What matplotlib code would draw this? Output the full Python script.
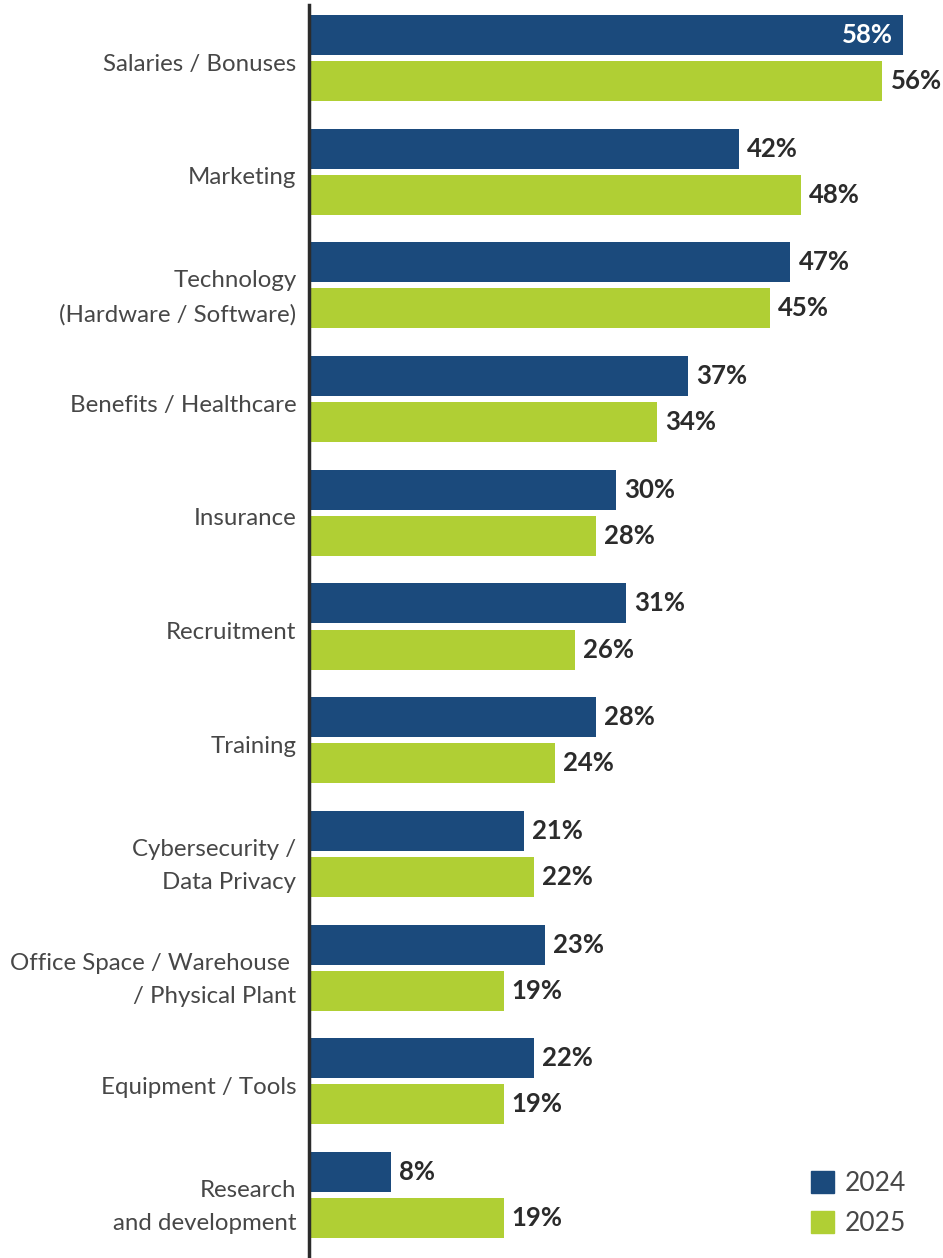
import matplotlib.pyplot as plt
from matplotlib.patches import Patch
from matplotlib.transforms import ScaledTranslation
from matplotlib import font_manager

categories = [
    "Salaries / Bonuses",
    "Marketing",
    "Technology\n(Hardware / Software)",
    "Benefits / Healthcare",
    "Insurance",
    "Recruitment",
    "Training",
    "Cybersecurity /\nData Privacy",
    "Office Space / Warehouse \n/ Physical Plant",
    "Equipment / Tools",
    "Research\nand development",
]
values_2024 = [58, 42, 47, 37, 30, 31, 28, 21, 23, 22, 8]
values_2025 = [56, 48, 45, 34, 28, 26, 24, 22, 19, 19, 19]
series_labels = ["2024", "2025"]

BLUE = "#1b4a7c"
GREEN = "#b0cf34"
TEXT = "#474747"
DARK = "#2b2b2b"

names = {f.name for f in font_manager.fontManager.ttflist}
family = "Lato" if "Lato" in names else "DejaVu Sans"
plt.rcParams["font.family"] = [family, "DejaVu Sans"]

W, H = 943, 1258
fig = plt.figure(figsize=(W / 100, H / 100), dpi=100)
left_px, top_px = 309, 5
ax = fig.add_axes([left_px / W, 0, 1 - left_px / W, 1 - top_px / H])

px_per_unit = 113.7
first_center = 58
ax.set_ylim((H - first_center) / px_per_unit, -(first_center - top_px) / px_per_unit)
ax.set_xlim(0, (W - left_px) / 10.24)

idx = list(range(len(categories)))
off = 0.2025
h = 0.352
ax.barh([i - off for i in idx], values_2024, height=h, color=BLUE)
ax.barh([i + off for i in idx], values_2025, height=h, color=GREEN)

vfs = 18.5
for i, v in enumerate(values_2024):
    if v >= 55:
        ax.text(v - 1.0, i - off, f"{v}%", ha="right", va="center",
                color="white", fontsize=vfs, fontweight="bold")
    else:
        ax.text(v + 0.8, i - off, f"{v}%", ha="left", va="center",
                color=DARK, fontsize=vfs, fontweight="bold")
for i, v in enumerate(values_2025):
    ax.text(v + 0.8, i + off, f"{v}%", ha="left", va="center",
            color=DARK, fontsize=vfs, fontweight="bold")

ax.set_yticks(idx)
ax.set_yticklabels(categories, fontsize=17.3, color=TEXT,
                   linespacing=1.72)
ax.tick_params(axis="y", length=0, pad=9)
shift = ScaledTranslation(0, -4 / 100, fig.dpi_scale_trans)
for lbl in ax.get_yticklabels():
    lbl.set_transform(lbl.get_transform() + shift)
ax.set_xticks([])
for s in ["top", "right", "bottom"]:
    ax.spines[s].set_visible(False)
ax.spines["left"].set_linewidth(2.5)
ax.spines["left"].set_color(DARK)

handles = [Patch(color=BLUE), Patch(color=GREEN)]
leg = ax.legend(handles, series_labels, loc="lower right",
                bbox_to_anchor=(1.0 - 15 / W, 0.0), bbox_transform=fig.transFigure,
                frameon=False, fontsize=19, handlelength=0.9, handleheight=0.9,
                handletextpad=0.4, labelspacing=0.58, borderaxespad=0.42)
for t in leg.get_texts():
    t.set_color(TEXT)

fig.savefig("out.png", dpi=100, facecolor="white")
